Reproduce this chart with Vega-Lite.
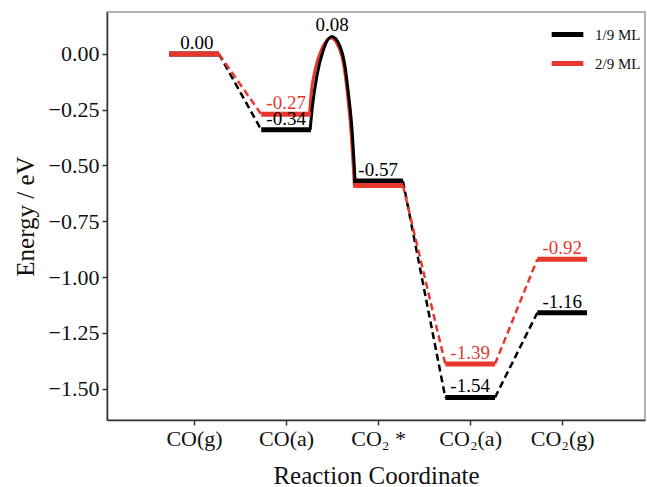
{
  "$schema": "https://vega.github.io/schema/vega-lite/v6.json",
  "width": 538,
  "height": 408,
  "autosize": {"type": "none"},
  "padding": {"left": 107, "top": 12, "right": 2, "bottom": 67},
  "background": "white",
  "config": {
    "view": {"stroke": "#9a9a9a", "strokeWidth": 1.5},
    "font": "Liberation Serif",
    "axis": {
      "grid": false,
      "labelFont": "Liberation Serif",
      "titleFont": "Liberation Serif",
      "labelFontSize": 22,
      "titleFontSize": 25,
      "titleFontWeight": "normal",
      "labelColor": "#111",
      "titleColor": "#111",
      "domainColor": "#333",
      "tickColor": "#333",
      "domainWidth": 1.5,
      "tickWidth": 1.5,
      "tickSize": 5
    }
  },
  "datasets": {
    "levels": [
      {"series": "1/9 ML", "x": 0.73, "x2": 1.27, "y": 0.0},
      {"series": "1/9 ML", "x": 1.73, "x2": 2.27, "y": -0.34},
      {"series": "1/9 ML", "x": 2.73, "x2": 3.27, "y": -0.57},
      {"series": "1/9 ML", "x": 3.73, "x2": 4.27, "y": -1.54},
      {"series": "1/9 ML", "x": 4.73, "x2": 5.27, "y": -1.16},
      {"series": "2/9 ML", "x": 0.73, "x2": 1.27, "y": 0.0},
      {"series": "2/9 ML", "x": 1.73, "x2": 2.27, "y": -0.27},
      {"series": "2/9 ML", "x": 2.73, "x2": 3.27, "y": -0.59},
      {"series": "2/9 ML", "x": 3.73, "x2": 4.27, "y": -1.39},
      {"series": "2/9 ML", "x": 4.73, "x2": 5.27, "y": -0.92}
    ],
    "conn": [
      {"series": "1/9 ML", "seg": "a", "x": 1.27, "y": 0.0},
      {"series": "1/9 ML", "seg": "a", "x": 1.73, "y": -0.34},
      {"series": "1/9 ML", "seg": "b", "x": 3.27, "y": -0.57},
      {"series": "1/9 ML", "seg": "b", "x": 3.73, "y": -1.54},
      {"series": "1/9 ML", "seg": "c", "x": 4.27, "y": -1.54},
      {"series": "1/9 ML", "seg": "c", "x": 4.73, "y": -1.16},
      {"series": "2/9 ML", "seg": "a", "x": 1.27, "y": 0.0},
      {"series": "2/9 ML", "seg": "a", "x": 1.73, "y": -0.27},
      {"series": "2/9 ML", "seg": "b", "x": 3.27, "y": -0.59},
      {"series": "2/9 ML", "seg": "b", "x": 3.73, "y": -1.39},
      {"series": "2/9 ML", "seg": "c", "x": 4.27, "y": -1.39},
      {"series": "2/9 ML", "seg": "c", "x": 4.73, "y": -0.92}
    ],
    "curve": [
      {"series": "2/9 ML", "x": 2.255, "y": -0.27},
      {"series": "2/9 ML", "x": 2.272, "y": -0.18},
      {"series": "2/9 ML", "x": 2.316, "y": -0.07},
      {"series": "2/9 ML", "x": 2.39, "y": 0.025},
      {"series": "2/9 ML", "x": 2.487, "y": 0.072},
      {"series": "2/9 ML", "x": 2.575, "y": 0.028},
      {"series": "2/9 ML", "x": 2.63, "y": -0.06},
      {"series": "2/9 ML", "x": 2.667, "y": -0.18},
      {"series": "2/9 ML", "x": 2.704, "y": -0.34},
      {"series": "2/9 ML", "x": 2.742, "y": -0.59},
      {"series": "1/9 ML", "x": 2.261, "y": -0.34},
      {"series": "1/9 ML", "x": 2.286, "y": -0.236},
      {"series": "1/9 ML", "x": 2.334, "y": -0.1},
      {"series": "1/9 ML", "x": 2.405, "y": 0.018},
      {"series": "1/9 ML", "x": 2.497, "y": 0.078},
      {"series": "1/9 ML", "x": 2.587, "y": 0.033},
      {"series": "1/9 ML", "x": 2.641, "y": -0.057},
      {"series": "1/9 ML", "x": 2.677, "y": -0.176},
      {"series": "1/9 ML", "x": 2.714, "y": -0.326},
      {"series": "1/9 ML", "x": 2.75, "y": -0.57}
    ],
    "labels": [
      {"series": "1/9 ML", "x": 1.03, "y": 0.0, "label": "0.00"},
      {"series": "2/9 ML", "x": 2.0, "y": -0.27, "label": "-0.27"},
      {"series": "1/9 ML", "x": 2.0, "y": -0.34, "label": "-0.34"},
      {"series": "1/9 ML", "x": 2.5, "y": 0.08, "label": "0.08"},
      {"series": "1/9 ML", "x": 3.0, "y": -0.57, "label": "-0.57"},
      {"series": "2/9 ML", "x": 4.0, "y": -1.39, "label": "-1.39"},
      {"series": "1/9 ML", "x": 4.0, "y": -1.54, "label": "-1.54"},
      {"series": "2/9 ML", "x": 5.0, "y": -0.92, "label": "-0.92"},
      {"series": "1/9 ML", "x": 5.0, "y": -1.16, "label": "-1.16"}
    ]
  },
  "encoding": {
    "x": {
      "field": "x",
      "type": "quantitative",
      "scale": {"domain": [0.054, 5.9], "nice": false, "zero": false},
      "axis": {
        "title": "Reaction Coordinate",
        "values": [1, 2, 3, 4, 5],
        "labelExpr": "['', 'CO(g)', 'CO(a)', 'CO₂ *', 'CO₂(a)', 'CO₂(g)'][datum.value]",
        "labelPadding": 3,
        "titlePadding": 14
      }
    },
    "y": {
      "field": "y",
      "type": "quantitative",
      "scale": {"domain": [-1.641, 0.188], "nice": false, "zero": false},
      "axis": {
        "title": "Energy / eV",
        "values": [0, -0.25, -0.5, -0.75, -1, -1.25, -1.5],
        "labelExpr": "replace(format(datum.value, '.2f'), '-', '−')",
        "labelPadding": 3,
        "titlePadding": 10
      }
    },
    "color": {
      "field": "series",
      "type": "nominal",
      "scale": {"domain": ["1/9 ML", "2/9 ML"], "range": ["#000000", "#e8372c"]},
      "legend": {
        "title": null,
        "orient": "none",
        "legendX": 442,
        "legendY": 4,
        "symbolType": "stroke",
        "symbolSize": 1000,
        "symbolStrokeWidth": 5,
        "symbolDash": [],
        "labelFont": "Liberation Serif",
        "labelFontSize": 15,
        "labelColor": "#111",
        "labelOffset": 9,
        "rowPadding": 0,
        "padding": 0
      }
    }
  },
  "layer": [
    {
      "data": {"name": "conn"},
      "mark": {"type": "line", "strokeDash": [7, 4], "strokeWidth": 2.5},
      "encoding": {"detail": {"field": "seg"}}
    },
    {
      "data": {"name": "curve"},
      "mark": {"type": "line", "interpolate": "monotone", "strokeWidth": 3}
    },
    {
      "data": {"name": "levels"},
      "mark": {"type": "rule", "strokeWidth": 5},
      "encoding": {"x2": {"field": "x2"}}
    },
    {
      "data": {"name": "labels"},
      "mark": {"type": "text", "baseline": "alphabetic", "dy": -5, "fontSize": 19, "font": "Liberation Serif"},
      "encoding": {"text": {"field": "label"}}
    }
  ]
}
